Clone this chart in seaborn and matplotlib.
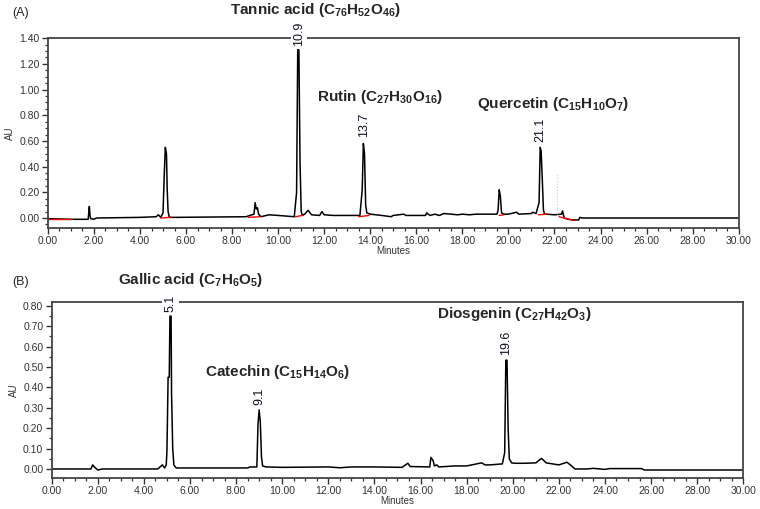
import matplotlib
matplotlib.use("Agg")
import matplotlib.pyplot as plt
from matplotlib.ticker import MultipleLocator, FormatStrFormatter
import seaborn as sns
import pandas as pd

sns.set_style("ticks")
plt.rcParams['font.family'] = ['Liberation Sans', 'DejaVu Sans']
plt.rcParams['mathtext.fontset'] = 'custom'
plt.rcParams['mathtext.bf'] = 'Liberation Sans:bold'
plt.rcParams['mathtext.rm'] = 'Liberation Sans'

# ---- panel A trace (minutes, AU)
a_time = [0.0, 1.0, 1.75, 1.80, 1.83, 1.86, 2.0, 2.1, 4.0, 4.7, 4.8, 4.9, 5.0, 5.05,
          5.1, 5.15, 5.18, 5.22, 5.27, 5.32, 5.5, 8.6, 8.95, 9.0, 9.05, 9.1, 9.15, 9.25,
          9.6, 10.0, 10.7, 10.8, 10.85, 10.9, 10.95, 11.0, 11.05, 11.15, 11.3, 11.45,
          11.8, 11.9, 12.0, 12.4, 13.2, 13.55, 13.65, 13.7, 13.75, 13.8, 13.85, 14.0,
          14.5, 14.9, 15.0, 15.45, 15.55, 16.4, 16.45, 16.55, 16.6, 16.8, 17.0, 17.2,
          17.5, 17.8, 18.0, 18.3, 18.6, 19.5, 19.55, 19.6, 19.65, 19.7, 19.8, 20.0, 20.35,
          20.45, 21.0, 21.05, 21.2, 21.33, 21.38, 21.42, 21.47, 21.52, 21.57, 21.65,
          22.0, 22.3, 22.35, 22.42, 22.6, 22.8, 23.05, 23.1, 23.2, 30.0]
a_au = [-0.005, -0.01, -0.01, 0.09, 0.02, -0.005, -0.01, 0.0, 0.005, 0.01, 0.025, 0.005,
        0.04, 0.32, 0.55, 0.50, 0.23, 0.05, 0.01, 0.005, 0.005, 0.01, 0.03, 0.12, 0.07,
        0.08, 0.03, 0.01, 0.025, 0.02, 0.01, 0.2, 1.31, 1.31, 0.43, 0.05, 0.02, 0.03,
        0.06, 0.025, 0.02, 0.05, 0.025, 0.02, 0.02, 0.02, 0.22, 0.58, 0.50, 0.1, 0.04,
        0.03, 0.02, 0.01, 0.02, 0.03, 0.02, 0.02, 0.04, 0.025, 0.02, 0.03, 0.02, 0.035,
        0.03, 0.025, 0.03, 0.025, 0.03, 0.03, 0.06, 0.22, 0.17, 0.04, 0.03, 0.03, 0.045,
        0.03, 0.035, 0.045, 0.035, 0.12, 0.55, 0.52, 0.3, 0.06, 0.03, 0.03, 0.025, 0.03,
        0.055, 0.0, -0.01, -0.015, -0.015, 0.005, 0.0, 0.0]

# integration baselines (red) in panel A
a_base = [([0.0, 1.0], [-0.005, -0.005]), ([4.9, 5.35], [0.0, 0.005]),
          ([8.7, 9.2], [0.005, 0.01]), ([10.75, 11.05], [0.01, 0.02]),
          ([13.5, 13.95], [0.01, 0.02]), ([19.6, 19.8], [0.02, 0.025]),
          ([21.3, 21.65], [0.025, 0.03]), ([22.2, 22.85], [0.01, -0.02])]

# ---- panel B trace
b_time = [0.0, 1.7, 1.78, 1.85, 2.0, 2.2, 4.6, 4.75, 4.8, 4.9, 4.97, 5.0, 5.05, 5.1,
          5.13, 5.18, 5.2, 5.25, 5.3, 5.4, 8.5, 8.6, 8.9, 8.95, 9.0, 9.05, 9.1, 9.15, 9.3,
          10.0, 12.0, 12.5, 13.0, 14.0, 15.2, 15.45, 15.55, 16.4, 16.45, 16.55, 16.6,
          16.7, 16.8, 17.5, 18.0, 18.65, 18.8, 19.0, 19.55, 19.65, 19.7, 19.75, 19.8,
          19.85, 19.95, 20.1, 20.5, 21.0, 21.25, 21.45, 22.0, 22.35, 22.5, 22.7, 23.2,
          23.5, 24.0, 24.2, 25.6, 25.7, 30.0]
b_au = [0.0, 0.0, 0.02, 0.01, -0.005, 0.0, 0.0, 0.015, 0.02, 0.005, 0.02, 0.09, 0.45,
        0.45, 0.75, 0.75, 0.37, 0.1, 0.02, 0.005, 0.005, 0.01, 0.01, 0.22, 0.29, 0.23,
        0.06, 0.015, 0.01, 0.008, 0.01, 0.006, 0.01, 0.01, 0.008, 0.028, 0.012, 0.01,
        0.057, 0.04, 0.015, 0.02, 0.01, 0.015, 0.015, 0.03, 0.02, 0.02, 0.025, 0.08,
        0.534, 0.534, 0.2, 0.05, 0.03, 0.028, 0.028, 0.03, 0.052, 0.03, 0.02, 0.033,
        0.02, 0.0, 0.0, 0.003, -0.002, 0.002, 0.002, -0.005, -0.005]

a_names = ["Tannic acid ($\\mathbf{C_{76}H_{52}O_{46}}$)",
           "Rutin ($\\mathbf{C_{27}H_{30}O_{16}}$)",
           "Quercetin ($\\mathbf{C_{15}H_{10}O_{7}}$)"]
a_rt = ["10.9", "13.7", "21.1"]
a_label_x = [11.6, 14.4, 21.95]
a_label_y = [1.62, 0.94, 0.886]
a_rt_x = [10.9, 13.72, 21.4]
a_rt_y = [1.34, 0.63, 0.59]

b_names = ["Gallic acid ($\\mathbf{C_{7}H_{6}O_{5}}$)",
           "Catechin ($\\mathbf{C_{15}H_{14}O_{6}}$)",
           "Diosgenin ($\\mathbf{C_{27}H_{42}O_{3}}$)"]
b_rt = ["5.1", "9.1", "19.6"]
b_label_x = [6.04, 9.81, 20.06]
b_label_y = [0.926, 0.475, 0.76]
b_rt_x = [5.15, 9.0, 19.73]
b_rt_y = [0.77, 0.314, 0.56]

fig = plt.figure(figsize=(7.6, 5.09), dpi=100)
axA = fig.add_axes([0.063, 0.552, 0.909, 0.373])
axB = fig.add_axes([0.068, 0.061, 0.910, 0.346])

dfA = pd.DataFrame({"Minutes": a_time, "AU": a_au})
dfB = pd.DataFrame({"Minutes": b_time, "AU": b_au})

sns.lineplot(data=dfA, x="Minutes", y="AU", ax=axA, color="black", lw=1.1,
             estimator=None, sort=False)
for bx, by in a_base:
    axA.plot(bx, by, color="red", lw=1.0)
axA.plot([22.1, 22.1], [0.03, 0.35], color="#f0b070", lw=0.8, ls=":", alpha=0.8)
sns.lineplot(data=dfB, x="Minutes", y="AU", ax=axB, color="black", lw=1.1,
             estimator=None, sort=False)

for ax, lo, hi, step in [(axA, -0.078, 1.40, 0.2), (axB, -0.044, 0.82, 0.1)]:
    ax.set_xlim(0, 30)
    ax.set_ylim(lo, hi)
    ax.xaxis.set_major_locator(MultipleLocator(2))
    ax.xaxis.set_minor_locator(MultipleLocator(0.5))
    ax.yaxis.set_major_locator(MultipleLocator(step))
    ax.yaxis.set_minor_locator(MultipleLocator(0.05))
    ax.xaxis.set_major_formatter(FormatStrFormatter('%.2f'))
    ax.yaxis.set_major_formatter(FormatStrFormatter('%.2f'))
    ax.tick_params(which='major', direction='out', length=4, width=1.0,
                   labelsize=7.5, colors='#333333', pad=2)
    ax.tick_params(which='minor', direction='out', length=2.5, width=0.9,
                   colors='#333333')
    for s in ax.spines.values():
        s.set_color('#444444')
        s.set_linewidth(1.3)
    ax.set_xlabel("Minutes", fontsize=7, color='#333333', labelpad=0)
    ax.set_ylabel("AU", fontsize=7, color='#333333', labelpad=3)

for ax, names, rts, lx, ly, rx, ry in [
        (axA, a_names, a_rt, a_label_x, a_label_y, a_rt_x, a_rt_y),
        (axB, b_names, b_rt, b_label_x, b_label_y, b_rt_x, b_rt_y)]:
    for n, x, y in zip(names, lx, ly):
        ax.text(x, y, n, fontsize=11, fontweight='bold', ha='center', va='center',
                clip_on=False)
    for r, x, y in zip(rts, rx, ry):
        ax.text(x, y, r, fontsize=9, rotation=90, ha='center', va='bottom',
                color='#111122', clip_on=False,
                bbox=dict(facecolor='white', edgecolor='none', pad=1.5))

fig.text(0.016, 0.975, "(A)", fontsize=9, ha='left', va='center')
fig.text(0.016, 0.446, "(B)", fontsize=9, ha='left', va='center')

fig.savefig("out.png", dpi=100)
